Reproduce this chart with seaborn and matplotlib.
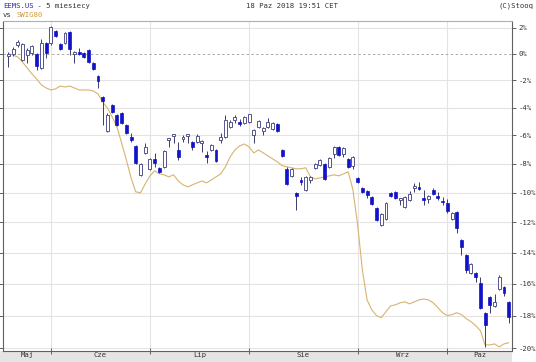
import numpy as np
import pandas as pd
import matplotlib
matplotlib.use("Agg")
import matplotlib.pyplot as plt
import seaborn as sns
from matplotlib.patches import Rectangle

# ---- data (percent change vs. start, daily sessions) ----
opens = [
    -0.18, -0.02, 0.67, -0.48, -0.10, 0.05, -0.02, -1.07, 0.82, 0.82,
    1.74, 0.74, 0.82, 1.66, -0.02, 0.13, 0.05, 0.28, -0.70, -1.67,
    -3.23, -5.68, -3.81, -4.53, -4.39, -5.25, -6.11, -6.75, -8.77, -7.24,
    -8.35, -7.66, -8.28, -8.21, -6.33, -6.04, -7.03, -6.26, -6.04, -6.47,
    -6.47, -6.54, -7.38, -7.03, -7.03, -6.33, -6.11, -5.39, -4.89, -5.03,
    -5.11, -5.03, -5.97, -5.39, -5.68, -5.39, -5.54, -5.18, -7.03, -8.35,
    -8.84, -10.00, -9.12, -9.80, -9.12, -8.28, -8.07, -8.01, -8.21, -7.31,
    -6.82, -7.31, -7.66, -8.14, -8.98, -9.66, -9.87, -10.28, -11.02, -12.17,
    -11.77, -10.00, -9.94, -10.48, -10.96, -10.48, -9.66, -9.60, -10.34, -10.41,
    -9.80, -10.21, -10.55, -10.68, -11.77, -11.30, -13.16, -14.14, -15.30, -15.30,
    -15.94, -17.82, -16.83, -17.39, -16.32, -16.19, -17.14,
]
highs = [
    0.13, 0.51, 1.05, 0.82, 0.44, 0.67, 0.05, 1.13, 0.89, 2.13,
    1.81, 0.82, 1.66, 1.74, 0.20, 0.44, 0.13, 0.36, -0.63, -1.59,
    -3.15, -4.39, -3.74, -4.46, -4.31, -5.18, -5.83, -6.68, -7.94, -6.54,
    -7.59, -7.24, -8.21, -7.03, -6.19, -5.90, -6.47, -5.97, -5.90, -6.40,
    -5.90, -6.33, -7.10, -6.61, -6.96, -5.83, -4.53, -4.89, -4.53, -4.82,
    -4.60, -4.46, -5.54, -4.89, -5.39, -4.75, -5.03, -5.11, -6.96, -8.21,
    -8.28, -9.94, -8.91, -8.84, -8.84, -7.94, -7.66, -7.94, -7.52, -6.75,
    -6.75, -6.82, -7.59, -7.45, -8.91, -9.60, -9.80, -10.21, -10.96, -11.36,
    -10.62, -9.94, -9.87, -10.34, -10.21, -9.87, -9.32, -9.26, -9.80, -10.14,
    -9.66, -9.94, -10.28, -10.41, -11.30, -11.23, -13.09, -14.08, -14.66, -15.24,
    -15.55, -17.76, -16.77, -16.64, -15.43, -16.13, -17.08,
]
lows = [
    -1.00, -0.18, 0.51, -0.55, -0.70, -0.10, -1.22, -1.15, -0.33, 0.67,
    1.28, 0.28, 0.74, -0.10, -0.70, -0.10, -0.33, -0.70, -1.22, -2.56,
    -5.25, -5.75, -4.39, -5.32, -5.18, -5.90, -6.47, -8.01, -8.84, -7.31,
    -8.42, -8.21, -8.63, -8.28, -6.82, -6.54, -7.73, -6.47, -6.54, -7.03,
    -6.54, -7.17, -7.94, -7.10, -7.87, -6.54, -6.19, -5.47, -5.11, -5.32,
    -5.18, -5.11, -6.54, -5.47, -5.97, -5.47, -5.61, -5.75, -7.52, -9.46,
    -8.91, -11.16, -9.46, -9.87, -9.32, -8.35, -8.14, -9.12, -8.28, -7.59,
    -7.45, -7.52, -8.28, -8.35, -9.32, -10.00, -10.34, -10.82, -11.91, -12.23,
    -11.84, -10.28, -10.41, -10.82, -11.02, -10.55, -9.94, -9.80, -10.82, -10.68,
    -10.14, -10.48, -10.82, -11.36, -11.84, -12.69, -14.14, -15.30, -15.36, -15.87,
    -17.57, -19.92, -17.82, -17.45, -16.38, -16.77, -18.43,
]
closes = [
    -0.02, 0.36, 0.89, 0.74, 0.28, 0.59, -0.93, 0.82, 0.05, 2.05,
    1.36, 0.36, 1.59, 0.36, 0.13, -0.02, -0.25, -0.63, -1.15, -2.04,
    -3.52, -4.53, -4.31, -5.25, -5.11, -5.83, -6.33, -7.94, -8.01, -6.82,
    -7.66, -7.94, -8.56, -7.10, -6.19, -5.90, -7.52, -6.11, -5.90, -6.82,
    -6.04, -6.40, -7.52, -6.68, -7.80, -6.11, -4.89, -5.03, -4.67, -5.18,
    -4.67, -4.46, -5.61, -4.96, -5.47, -5.03, -5.11, -5.68, -7.45, -9.39,
    -8.35, -10.21, -9.26, -8.91, -8.91, -8.01, -7.73, -9.05, -7.59, -6.82,
    -7.38, -6.89, -8.21, -7.52, -9.26, -9.94, -10.14, -10.75, -11.84, -11.43,
    -10.68, -10.21, -10.34, -10.34, -10.28, -10.07, -9.53, -9.73, -10.48, -10.21,
    -10.07, -10.34, -10.62, -11.23, -11.36, -12.37, -13.62, -15.11, -14.73, -15.55,
    -17.51, -18.56, -17.33, -17.14, -15.55, -16.57, -18.07,
]
swig80 = [
    0.00, -0.10, -0.25, -0.63, -1.07, -1.52, -1.89, -2.34, -2.56, -2.71,
    -2.63, -2.42, -2.49, -2.42, -2.56, -2.71, -2.71, -2.71, -2.78, -3.01,
    -3.59, -4.03, -4.67, -5.39, -6.54, -7.73, -8.98, -9.94, -10.00, -9.39,
    -8.84, -8.49, -8.70, -8.77, -8.91, -8.77, -9.19, -9.46, -9.60, -9.46,
    -9.32, -9.19, -9.32, -9.12, -8.91, -8.70, -8.21, -7.52, -7.03, -6.75,
    -6.61, -6.82, -7.24, -7.03, -7.24, -7.45, -7.66, -7.87, -8.14, -8.21,
    -8.28, -8.35, -8.35, -8.28, -8.91, -9.05, -8.98, -8.91, -8.84, -8.77,
    -8.84, -8.70, -8.56, -9.80, -12.17, -15.11, -17.02, -17.64, -18.00, -18.13,
    -17.76, -17.39, -17.33, -17.20, -17.14, -17.27, -17.14, -17.02, -16.96, -17.02,
    -17.20, -17.51, -17.82, -18.00, -17.94, -17.82, -17.94, -18.19, -18.37, -18.62,
    -18.93, -19.80, -19.80, -19.74, -19.92, -19.74, -19.67,
]
month_labels = ["Maj", "Cze", "Lip", "Sie", "Wrz", "Paz"]
month_starts = [9, 30, 51, 74, 93]  # session index of first session in month
y_ticks = [2, 0, -2, -4, -6, -8, -10, -12, -14, -16, -18, -20]

# ---- styling ----
sns.set_style("white")
plt.rcParams["font.family"] = ["DejaVu Sans Mono"]
FS = 5.2
BLUE = "#1212c8"
HOLLOW_EDGE = "#55558f"
WICK = "#3c3c6a"
TAN = "#d8b370"
GRID = "#e3e3e3"

df = pd.DataFrame({"o": opens, "h": highs, "l": lows, "c": closes, "swig": swig80})
df["i"] = np.arange(len(df))
df["lo_body"] = df[["o", "c"]].min(axis=1)
df["hi_body"] = df[["o", "c"]].max(axis=1)
up = df["c"] >= df["o"]

W, H = 536, 362
fig = plt.figure(figsize=(W / 100, H / 100), dpi=100)
fig.patch.set_facecolor("white")
ax = fig.add_axes([3 / W, 11 / H, 509 / W, 330 / H])

fwd = lambda p: np.log1p(np.asarray(p, dtype=float) / 100.0)
inv = lambda v: np.expm1(np.asarray(v, dtype=float)) * 100.0
ax.set_yscale("function", functions=(fwd, inv))

x_lo, x_hi = -1.13, 106.7
ax.set_xlim(x_lo, x_hi)
ax.set_ylim(-20.17, 2.51)

# grid
for t in y_ticks:
    if t == 0:
        ax.axhline(t, color="#a8a8a8", lw=0.7, ls=(0, (2.5, 2.5)), zorder=1)
    else:
        ax.axhline(t, color=GRID, lw=0.8, zorder=0.5)
for m in month_starts:
    ax.axvline(m, color=GRID, lw=0.8, zorder=0.5)

# SWIG80 line
sns.lineplot(data=df, x="i", y="swig", color=TAN, lw=0.8, ax=ax, zorder=2, legend=False)

# candles
ax.vlines(df["i"], df["l"], df["h"], color=WICK, lw=0.7, zorder=3)
bw = 0.62
ax.bar(df.loc[up, "i"], df.loc[up, "hi_body"] - df.loc[up, "lo_body"],
       bottom=df.loc[up, "lo_body"], width=bw, facecolor="white",
       edgecolor=HOLLOW_EDGE, lw=0.7, zorder=4)
ax.bar(df.loc[~up, "i"], df.loc[~up, "hi_body"] - df.loc[~up, "lo_body"],
       bottom=df.loc[~up, "lo_body"], width=bw, facecolor=BLUE,
       edgecolor=BLUE, lw=0.5, zorder=4)

# axes cosmetics
ax.set_xlabel("")
ax.set_ylabel("")
for s in ["left", "right", "bottom"]:
    ax.spines[s].set_color("#606060")
    ax.spines[s].set_linewidth(0.8)
ax.spines["top"].set_color("#b0b0b0")
ax.spines["top"].set_linewidth(0.8)

ax.set_yticks(y_ticks)
ax.set_yticklabels([f"{t}%" for t in y_ticks])
ax.yaxis.set_ticks_position("both")
ax.tick_params(axis="y", which="major", left=True, right=True, labelleft=False,
               labelright=True, direction="out", length=3, width=0.7,
               color="#606060", labelsize=FS, labelcolor="#333333", pad=1.5)
ax.yaxis.set_minor_locator(matplotlib.ticker.NullLocator())

bounds = [x_lo] + month_starts + [x_hi]
centers = [(a + b) / 2 for a, b in zip(bounds[:-1], bounds[1:])]
ax.set_xticks(month_starts)
ax.set_xticklabels([])
ax.set_xticks(centers, minor=True)
ax.set_xticklabels(month_labels, minor=True)
ax.tick_params(axis="x", which="major", direction="inout", length=4, width=0.7,
               color="#606060", bottom=True)
ax.tick_params(axis="x", which="minor", length=0, labelsize=FS,
               labelcolor="#333333", pad=1.0)

# label band under the axis
fig.patches.append(Rectangle((0, 0), 512 / W, 11 / H, transform=fig.transFigure,
                             facecolor="#e4e4e4", edgecolor="none", zorder=-1))

# header texts
cw = 0.602 * FS * 100 / 72  # monospace character width in px
y1 = 1 - 6 / H
y2 = 1 - 15 / H
x0 = 3
fig.text(x0 / W, y1, "EEMS.US", color="#2e2ea8", size=FS, va="center", ha="left")
fig.text((x0 + 7 * cw) / W, y1, " - 5 miesiecy", color="#333333", size=FS, va="center", ha="left")
fig.text(x0 / W, y2, "vs", color="#333333", size=FS, va="center", ha="left")
fig.text((x0 + 3 * cw) / W, y2, "SWIG80", color="#d09a40", size=FS, va="center", ha="left")
fig.text(292 / W, y1, "18 Paz 2018 19:51 CET", color="#333333", size=FS, va="center", ha="center")
fig.text(533 / W, y1, "(C)Stooq", color="#333333", size=FS, va="center", ha="right")

fig.savefig("out.png", dpi=100)
